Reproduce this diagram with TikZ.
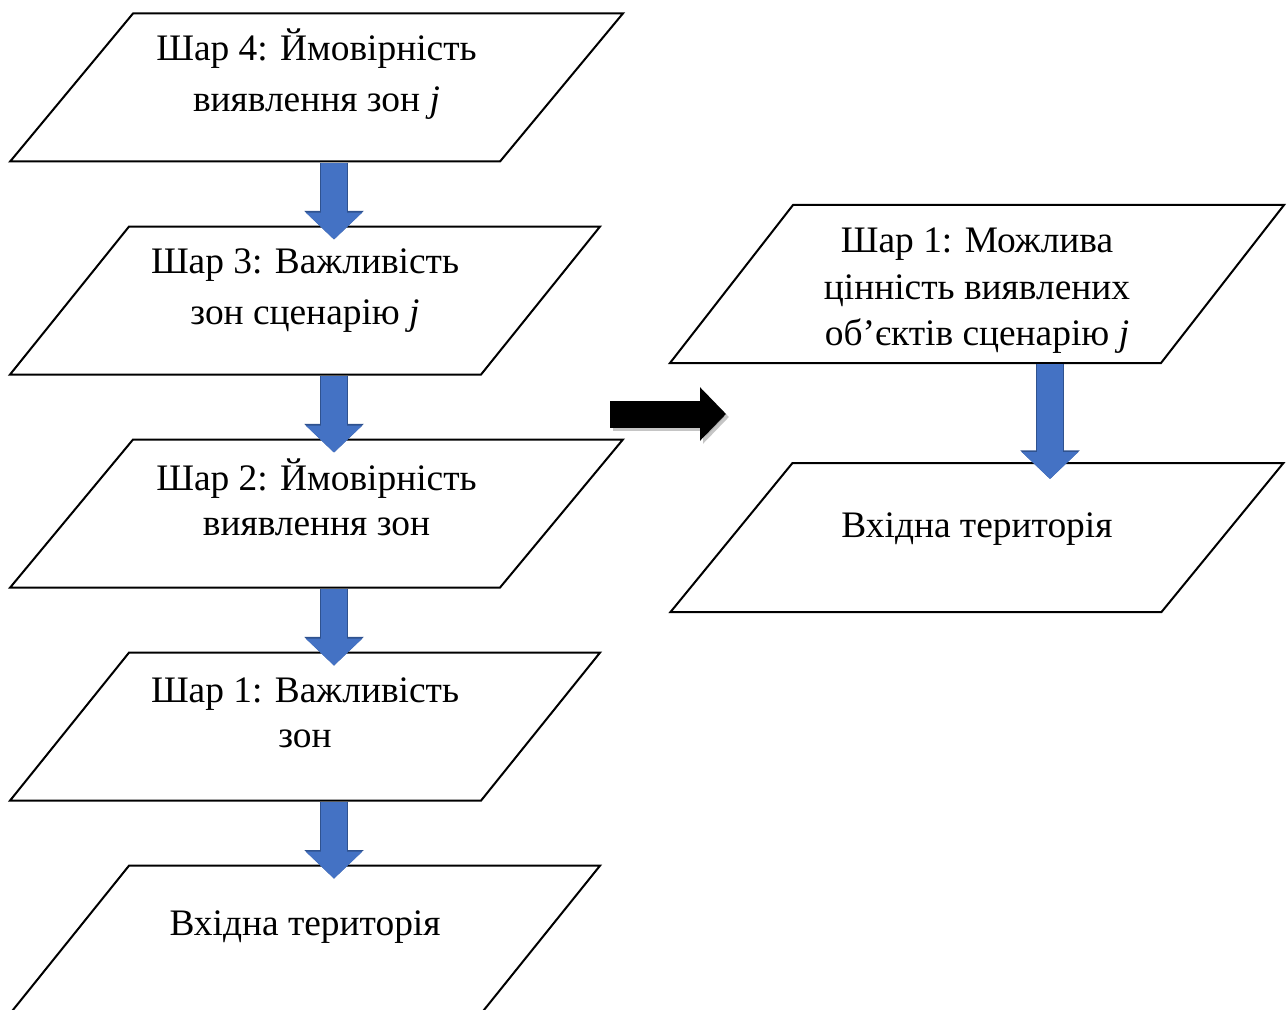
\documentclass[tikz,border=0pt]{standalone}
\usepackage{fontspec}
\setmainfont{Liberation Serif}
\usepackage{tikz}
\usetikzlibrary{shapes.geometric, arrows.meta, positioning}
\definecolor{cornflower}{HTML}{4472C4}
\definecolor{navyedge}{HTML}{2F528F}
\definecolor{smoke}{HTML}{8C8C8C}

% height, width, first baseline, text
\newcommand{\layerbox}[4]{\parbox[c][#1][t]{#2}{\centering\rule{0pt}{#3}#4}}

\begin{document}
\begin{tikzpicture}[
    x=0.5pt, y=-0.5pt,
    node distance=31.5pt,
    layer/.style={trapezium, trapezium left angle=50.3, trapezium right angle=129.7, draw=black, line width=1pt, fill=white, inner sep=0pt, font=\fontsize{18.7}{25.5}\selectfont},
    narrow/.style={trapezium left angle=51.2, trapezium right angle=128.8},
    blockflow/.style={-{Triangle[width=27.5pt, length=13.5pt]}, line width=13pt, color=cornflower,
      preaction={draw=navyedge, line width=14pt, -{Triangle[width=28.9pt, length=14.3pt]}}},
    jumpflow/.style={-{Triangle[width=26pt, length=13pt]}, line width=13.5pt, color=black},
  ]
  \useasboundingbox (0,0) rectangle (1288,1010);

  % left stack
  \node[layer] (l4) at (316.5,87.5) {\layerbox{74pt}{183.5pt}{23.5pt}{Шар 4: Ймовірність\\виявлення зон \textit{j}}};
  \node[layer, narrow, below=of l4, xshift=-5.75pt] (l3) {\layerbox{74pt}{176pt}{23.5pt}{Шар 3: Важливість\\зон сценарію \textit{j}}};
  \node[layer, below=of l3, xshift=5.75pt] (l2) {\layerbox{74pt}{183.5pt}{25.5pt}{Шар 2: Ймовірність\\[-3pt]виявлення зон}};
  \node[layer, narrow, below=of l2, xshift=-5.75pt] (l1) {\layerbox{74pt}{176pt}{25pt}{Шар 1: Важливість\\[-3pt]зон}};
  \node[layer, narrow, below=of l1] (l0) {\layerbox{74pt}{176pt}{35pt}{Вхідна територія}};

  % right stack
  \node[layer, trapezium left angle=52.1, trapezium right angle=127.9, font=\fontsize{18.7}{23.25}\selectfont] (r1) at (977,284) {\layerbox{79pt}{184pt}{24pt}{Шар 1: Можлива\\цінність виявлених\\об’єктів сценарію \textit{j}}};
  \node[layer, trapezium left angle=50.7, trapezium right angle=129.3, below=49pt of r1] (r0) {\layerbox{74.5pt}{184.5pt}{37pt}{Вхідна територія}};

  \coordinate (spine) at (334,0);
  \coordinate (spineright) at (1050,0);
  \draw[blockflow] (l4.south -| spine) -- ([yshift=-7pt]l3.north -| spine);
  \draw[blockflow] (l3.south -| spine) -- ([yshift=-7pt]l2.north -| spine);
  \draw[blockflow] (l2.south -| spine) -- ([yshift=-7pt]l1.north -| spine);
  \draw[blockflow] (l1.south -| spine) -- ([yshift=-7pt]l0.north -| spine);
  \draw[blockflow] (r1.south -| spineright) -- ([yshift=-8.5pt]r0.north -| spineright);

  % black arrow between the stacks
  \coordinate (jumpfrom) at (610,414);
  \coordinate (jumpto) at (726,414);
  \draw[jumpflow, color=smoke, opacity=0.5, transform canvas={xshift=1.5pt, yshift=-1.5pt}] (jumpfrom) -- (jumpto);
  \draw[jumpflow] (jumpfrom) -- (jumpto);
\end{tikzpicture}
\end{document}
